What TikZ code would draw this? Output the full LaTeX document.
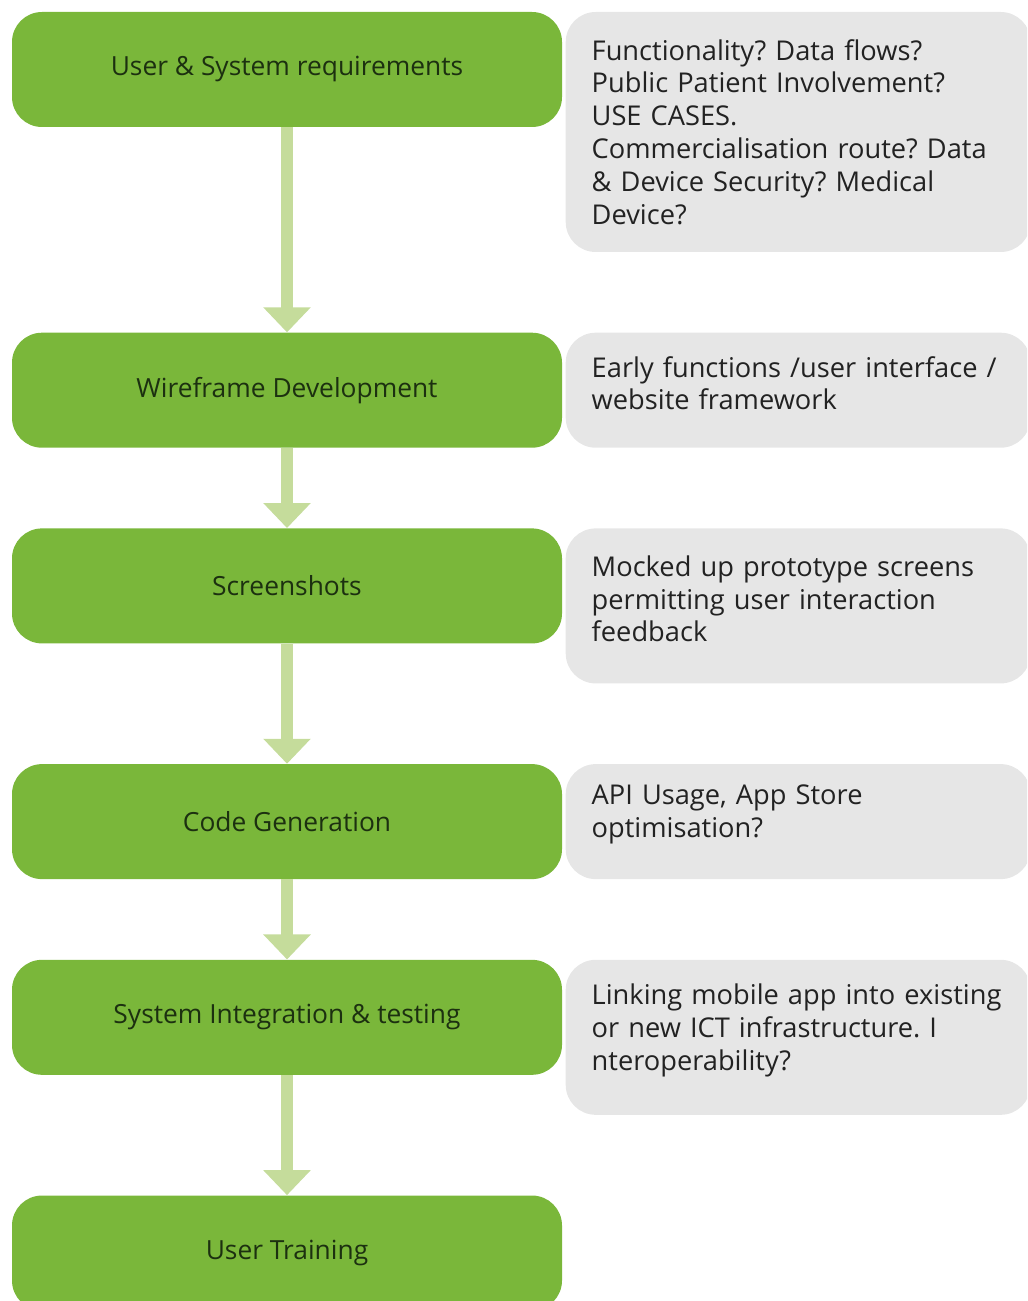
\documentclass[tikz,border=0pt]{standalone}
\usepackage{fontspec}
\setmainfont{Open Sans}
\usepackage{tikz}
\usetikzlibrary{arrows.meta, positioning}
\usepackage{xcolor}
\frenchspacing

\definecolor{stepgreen}{RGB}{122,183,58}
\definecolor{arrowgreen}{RGB}{197,220,155}
\definecolor{notegray}{RGB}{230,230,230}
\definecolor{labeldark}{RGB}{28,48,16}
\definecolor{notetext}{RGB}{34,34,34}

\tikzset{
  greenbox/.style={fill=stepgreen, rounded corners=0.6cm, minimum width=11cm,
    minimum height=2.3cm, text=labeldark, font=\fontsize{15}{18.7}\selectfont},
  notebox/.style={fill=notegray, rounded corners=0.6cm, text width=8.26cm,
    inner xsep=0.52cm, align=left, text=notetext, font=\fontsize{15.5}{18.7}\selectfont},
  lifted/.style={execute at end node={\par\vspace*{0.28cm}}},
  flowarrow/.style={draw=arrowgreen, line width=0.24cm,
    -{Triangle[width=0.92cm, length=0.5cm]}}
}

\begin{document}
\begin{tikzpicture}
    \clip (0,0) rectangle (20.54,-26.02);
    % steps
    \node[greenbox] (req) at (5.74,-1.39) {User \& System requirements};
    \node[greenbox, below=4.1cm of req] (wire) {Wireframe Development};
    \node[greenbox, below=1.6cm of wire] (shots) {Screenshots};
    \node[greenbox, below=2.4cm of shots] (code) {Code Generation};
    \node[greenbox, below=1.6cm of code] (integ) {System Integration \& testing};
    \node[greenbox, below=2.4cm of integ] (train) {User Training};
    % notes
    \node[notebox, minimum height=4.8cm, right=0.06cm of req.north east, anchor=north west] (reqnote)
      {Functionality? Data flows?\\ Public Patient Involvement?\\ USE CASES.\\
       Commercialisation route? Data\\ \& Device Security? Medical\\ Device?};
    \node[notebox, lifted, minimum height=2.3cm, right=0.06cm of wire.north east, anchor=north west] (wirenote)
      {Early functions /user interface /\\ website framework};
    \node[notebox, lifted, minimum height=3.1cm, right=0.06cm of shots.north east, anchor=north west] (shotsnote)
      {Mocked up prototype screens\\ permitting user interaction\\ feedback};
    \node[notebox, lifted, minimum height=2.3cm, right=0.06cm of code.north east, anchor=north west] (codenote)
      {API Usage, App Store\\ optimisation?};
    \node[notebox, lifted, minimum height=3.1cm, right=0.06cm of integ.north east, anchor=north west] (integnote)
      {Linking mobile app into existing\\ or new ICT infrastructure. I\\ nteroperability?};
    % arrows
    \draw[flowarrow] (req) -- (wire);
    \draw[flowarrow] (wire) -- (shots);
    \draw[flowarrow] (shots) -- (code);
    \draw[flowarrow] (code) -- (integ);
    \draw[flowarrow] (integ) -- (train);
  \end{tikzpicture}
\end{document}
